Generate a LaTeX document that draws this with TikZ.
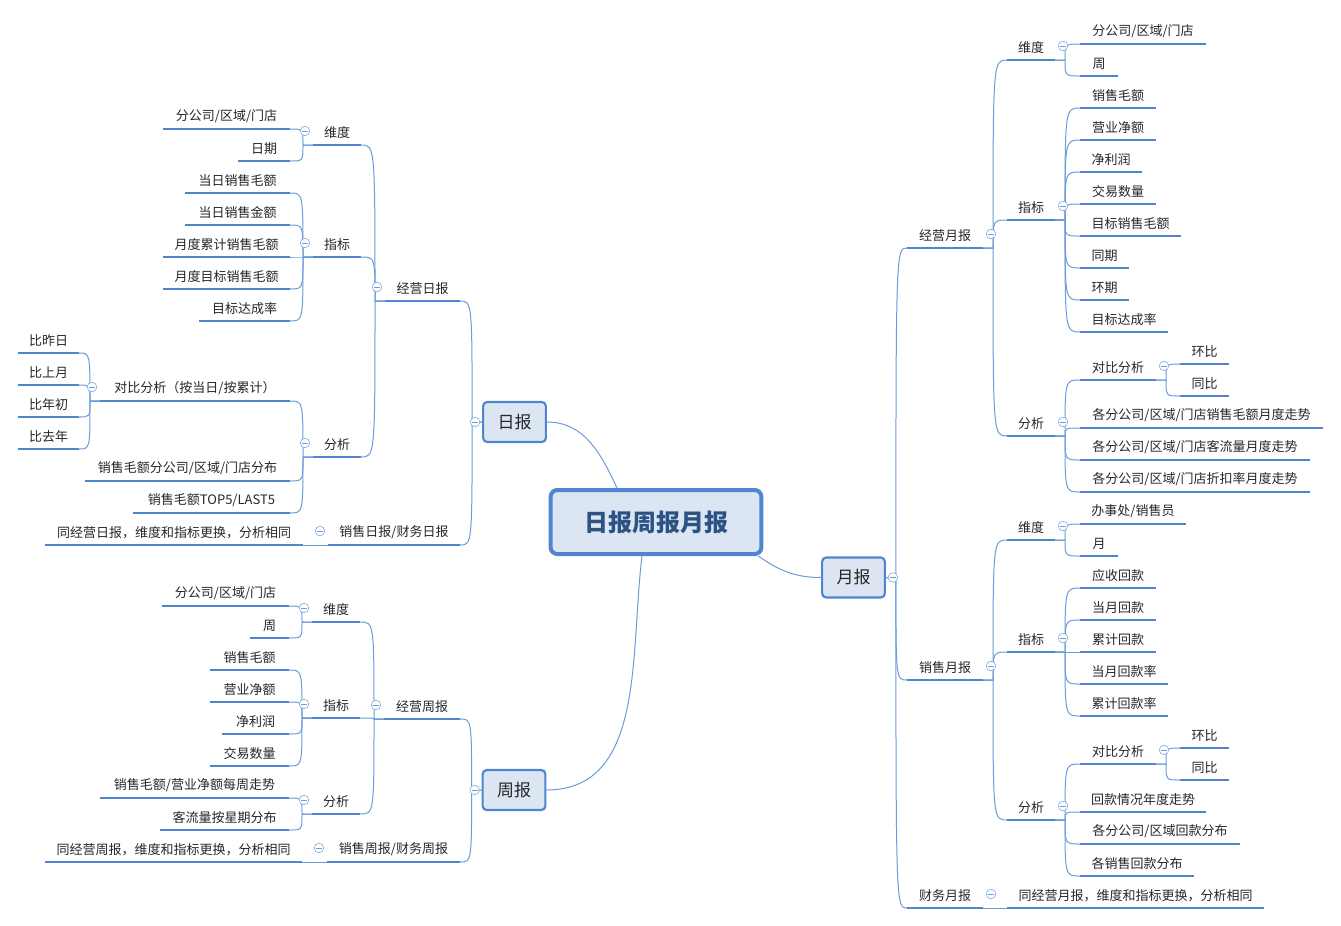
\documentclass[tikz,border=0pt]{standalone}
\usepackage{fontspec}
\setmainfont{Noto Sans CJK SC}
\usetikzlibrary{calc}
\definecolor{ulc}{HTML}{4F86CF}
\definecolor{cnc}{HTML}{6A9BDA}
\definecolor{boxf}{HTML}{DCE6F2}
\definecolor{rootc}{HTML}{2E5283}
\tikzset{
 ul/.style={ulc,line width=1.9pt},
 conn/.style={cnc,line width=0.75pt},
 txt/.style={inner sep=0pt,font=\fontsize{9.75}{11}\selectfont,text=black!85},
 box/.style={draw=ulc,fill=boxf,line width=1.6pt,rounded corners=3pt,minimum width=47pt,minimum height=30pt,font=\fontsize{12.75}{14}\selectfont,text=black!85},
 colc/.style={draw=cnc!80,fill=white,line width=0.5pt}
}
\newcommand\tp[5]{\coordinate (#1L) at (#2,#4);\coordinate (#1R) at (#3,#4);
 \draw[ul] (#1L) -- (#1R);
 \node[txt] (#1) at ({(#2+#3)/2},{#4-12.5}) {#5};}
\newcommand\conL[2]{\draw[conn] (#1L) -- ++(-10,0) coordinate (tmpj) .. controls (tmpj|-#2R) and (tmpj|-#2R) .. (#2R);}
\newcommand\conR[2]{\draw[conn] (#1R) -- ++(10,0) coordinate (tmpj) .. controls (tmpj|-#2L) and (tmpj|-#2L) .. (#2L);}
\newcommand\colL[1]{\draw[colc] ($(#1L)+(-8,-14)$) circle (3.6pt);\draw[cnc,line width=0.5pt] ($(#1L)+(-11,-14)$) -- ++(6,0);}
\newcommand\colR[1]{\draw[colc] ($(#1R)+(8,-14)$) circle (3.6pt);\draw[cnc,line width=0.5pt] ($(#1R)+(5,-14)$) -- ++(6,0);}
\begin{document}
\begin{tikzpicture}[x=0.75pt,y=-0.75pt]
\useasboundingbox (0,0) rectangle (1341,925);
% root and boxes
\node[draw=ulc,fill=boxf,line width=3pt,rounded corners=5pt,minimum width=158pt,minimum height=48pt,font=\fontsize{18}{20}\selectfont\bfseries,text=rootc] (root) at (656,522) {日报周报月报};
\node[box] (ri) at (514.5,422) {日报};
\node[box] (zh) at (514,790) {周报};
\node[box] (yu) at (853.5,577.5) {月报};
\coordinate (riL) at (ri.west);\coordinate (zhL) at (zh.west);\coordinate (yuR) at (yu.east);
\draw[conn] (ri.east) to[out=0,in=115] ($(root.north)+(-39,0)$);
\draw[conn] ($(root.south)+(-14,0)$) to[out=-97,in=0] (zh.east);
\draw[conn] ($(root.south east)+(-5,0)$) to[out=-35,in=180] (yu.west);
% ===== 日报
\tp{jr}{385}{460}{301}{经营日报}
\tp{jrw}{313}{361}{145}{维度}
\tp{jrw1}{163}{290}{129}{分公司/区域/门店}
\tp{jrw2}{238}{290}{161}{日期}
\tp{jrz}{313}{361}{257}{指标}
\tp{jrz1}{185}{290}{193}{当日销售毛额}
\tp{jrz2}{185}{290}{225}{当日销售金额}
\tp{jrz3}{163}{290}{257}{月度累计销售毛额}
\tp{jrz4}{163}{290}{289}{月度目标销售毛额}
\tp{jrz5}{199}{290}{321}{目标达成率}
\tp{jrf}{313}{361}{457}{分析}
\tp{jrf1}{100}{290}{401}{对比分析（按当日/按累计）}
\tp{jrc1}{18}{79}{353}{比昨日}
\tp{jrc2}{18}{79}{385}{比上月}
\tp{jrc3}{18}{79}{417}{比年初}
\tp{jrc4}{18}{79}{449}{比去年}
\tp{jrf2}{85}{290}{481}{销售毛额分公司/区域/门店分布}
\tp{jrf3}{133}{290}{513}{销售毛额TOP5/LAST5}
\tp{xr}{328}{460}{545}{销售日报/财务日报}
\tp{xr1}{45}{303}{545}{同经营日报，维度和指标更换，分析相同}
\conL{ri}{jr}\conL{ri}{xr}
\conL{jr}{jrw}\conL{jr}{jrz}\conL{jr}{jrf}
\conL{jrw}{jrw1}\conL{jrw}{jrw2}
\foreach \c in {1,...,5}{\conL{jrz}{jrz\c}}
\conL{jrf}{jrf1}\conL{jrf}{jrf2}\conL{jrf}{jrf3}
\foreach \c in {1,...,4}{\conL{jrf1}{jrc\c}}
\conL{xr}{xr1}
\colL{jr}\colL{jrw}\colL{jrz}\colL{jrf}\colL{jrf1}\colL{xr}
% ===== 周报
\tp{jz}{384}{460}{719}{经营周报}
\tp{jzw}{312}{360}{622}{维度}
\tp{jzw1}{162}{289}{606}{分公司/区域/门店}
\tp{jzw2}{250}{289}{638}{周}
\tp{jzz}{312}{360}{718}{指标}
\tp{jzz1}{210}{289}{670}{销售毛额}
\tp{jzz2}{210}{289}{702}{营业净额}
\tp{jzz3}{222}{289}{734}{净利润}
\tp{jzz4}{210}{289}{766}{交易数量}
\tp{jzf}{312}{360}{814}{分析}
\tp{jzf1}{100}{289}{798}{销售毛额/营业净额每周走势}
\tp{jzf2}{160}{289}{830}{客流量按星期分布}
\tp{xz}{327}{460}{862}{销售周报/财务周报}
\tp{xz1}{45}{302}{862}{同经营周报，维度和指标更换，分析相同}
\conL{zh}{jz}\conL{zh}{xz}
\conL{jz}{jzw}\conL{jz}{jzz}\conL{jz}{jzf}
\conL{jzw}{jzw1}\conL{jzw}{jzw2}
\foreach \c in {1,...,4}{\conL{jzz}{jzz\c}}
\conL{jzf}{jzf1}\conL{jzf}{jzf2}
\conL{xz}{xz1}
\colL{jz}\colL{jzw}\colL{jzz}\colL{jzf}\colL{xz}
% ===== 月报
\tp{jy}{907}{983}{248}{经营月报}
\tp{jyw}{1007}{1055}{60}{维度}
\tp{jyw1}{1080}{1206}{44}{分公司/区域/门店}
\tp{jyw2}{1080}{1118}{76}{周}
\tp{jyz}{1007}{1055}{220}{指标}
\tp{jyz1}{1080}{1156}{108}{销售毛额}
\tp{jyz2}{1080}{1156}{140}{营业净额}
\tp{jyz3}{1080}{1142}{172}{净利润}
\tp{jyz4}{1080}{1156}{204}{交易数量}
\tp{jyz5}{1080}{1181}{236}{目标销售毛额}
\tp{jyz6}{1080}{1129}{268}{同期}
\tp{jyz7}{1080}{1129}{300}{环期}
\tp{jyz8}{1080}{1168}{332}{目标达成率}
\tp{jyf}{1007}{1055}{436}{分析}
\tp{jyf1}{1080}{1156}{380}{对比分析}
\tp{jyc1}{1180}{1229}{364}{环比}
\tp{jyc2}{1180}{1229}{396}{同比}
\tp{jyf2}{1080}{1323}{428}{各分公司/区域/门店销售毛额月度走势}
\tp{jyf3}{1080}{1310}{460}{各分公司/区域/门店客流量月度走势}
\tp{jyf4}{1080}{1310}{492}{各分公司/区域/门店折扣率月度走势}
\tp{xy}{907}{983}{680}{销售月报}
\tp{xyw}{1007}{1055}{540}{维度}
\tp{xyw1}{1080}{1186}{524}{办事处/销售员}
\tp{xyw2}{1080}{1118}{556}{月}
\tp{xyz}{1007}{1055}{652}{指标}
\tp{xyz1}{1080}{1156}{588}{应收回款}
\tp{xyz2}{1080}{1156}{620}{当月回款}
\tp{xyz3}{1080}{1156}{652}{累计回款}
\tp{xyz4}{1080}{1168}{684}{当月回款率}
\tp{xyz5}{1080}{1168}{716}{累计回款率}
\tp{xyf}{1007}{1055}{820}{分析}
\tp{xyf1}{1080}{1156}{764}{对比分析}
\tp{xyc1}{1180}{1229}{748}{环比}
\tp{xyc2}{1180}{1229}{780}{同比}
\tp{xyf2}{1080}{1206}{812}{回款情况年度走势}
\tp{xyf3}{1080}{1240}{844}{各分公司/区域回款分布}
\tp{xyf4}{1080}{1194}{876}{各销售回款分布}
\tp{cy}{907}{983}{908}{财务月报}
\tp{cy1}{1007}{1264}{908}{同经营月报，维度和指标更换，分析相同}
\conR{yu}{jy}\conR{yu}{xy}\conR{yu}{cy}
\conR{jy}{jyw}\conR{jy}{jyz}\conR{jy}{jyf}
\conR{jyw}{jyw1}\conR{jyw}{jyw2}
\foreach \c in {1,...,8}{\conR{jyz}{jyz\c}}
\foreach \c in {1,...,4}{\conR{jyf}{jyf\c}}
\conR{jyf1}{jyc1}\conR{jyf1}{jyc2}
\conR{xy}{xyw}\conR{xy}{xyz}\conR{xy}{xyf}
\conR{xyw}{xyw1}\conR{xyw}{xyw2}
\foreach \c in {1,...,5}{\conR{xyz}{xyz\c}}
\foreach \c in {1,...,4}{\conR{xyf}{xyf\c}}
\conR{xyf1}{xyc1}\conR{xyf1}{xyc2}
\conR{cy}{cy1}
\colR{jy}\colR{jyw}\colR{jyz}\colR{jyf}\colR{jyf1}\colR{xy}\colR{xyw}\colR{xyz}\colR{xyf}\colR{xyf1}\colR{cy}
\foreach \n in {ri,zh}{\draw[colc] ($(\n.west)+(-7,0)$) circle (3.6pt);\draw[cnc,line width=0.5pt] ($(\n.west)+(-10,0)$) -- ++(6,0);}
\draw[colc] ($(yu.east)+(7,0)$) circle (3.6pt);\draw[cnc,line width=0.5pt] ($(yu.east)+(4,0)$) -- ++(6,0);
\end{tikzpicture}
\end{document}
